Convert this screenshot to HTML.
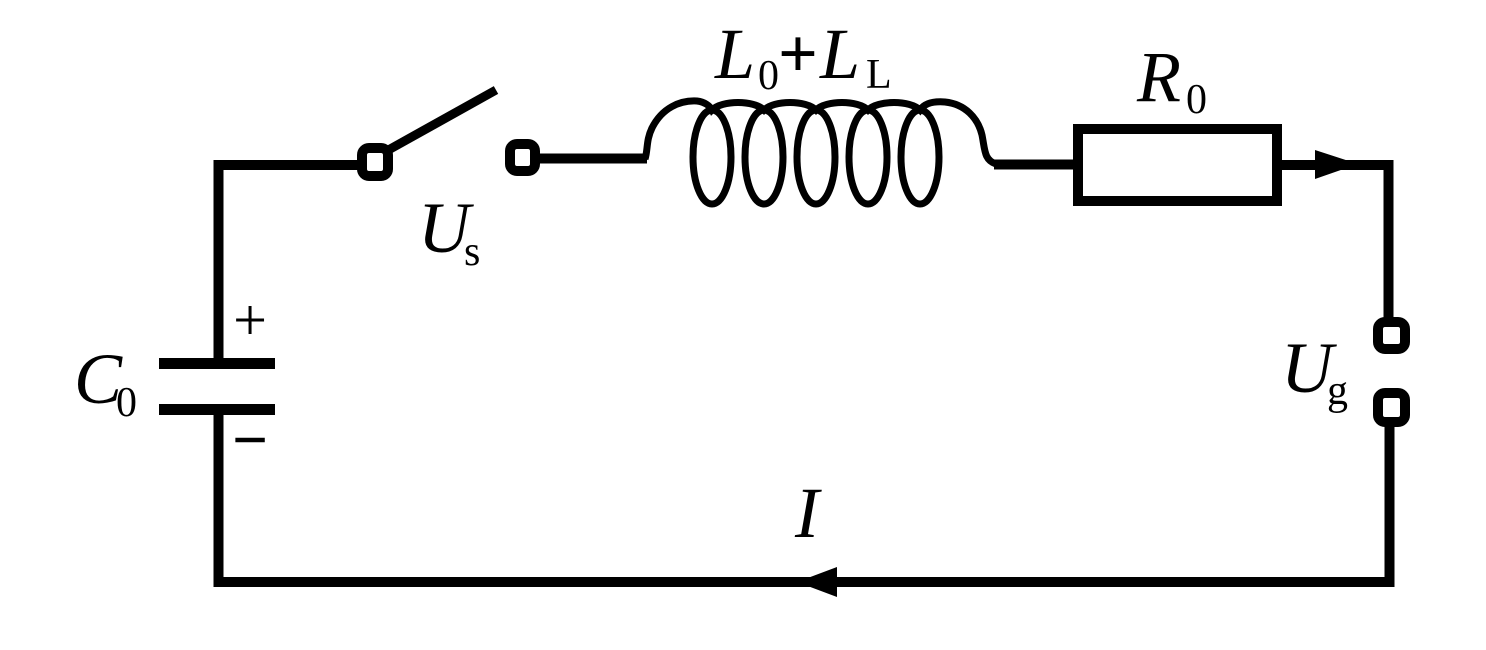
<!DOCTYPE html>
<html>
<head>
<meta charset="utf-8">
<style>
html,body{margin:0;padding:0;background:#fff;}
svg{display:block;}
text{font-family:"Liberation Serif","DejaVu Serif",serif;fill:#000;}
.it{font-style:italic;}
</style>
</head>
<body>
<svg width="1486" height="650" viewBox="0 0 1486 650" xmlns="http://www.w3.org/2000/svg">
<g fill="none" stroke="#000" stroke-width="10" stroke-linejoin="miter" stroke-linecap="butt">
  <path d="M362,165 L218.5,165 L218.5,363"/>
  <path d="M218.5,410 L218.5,582 L1389.5,582 L1389.5,422"/>
  <path d="M535,158.5 L647,158.5"/>
  <path d="M994,164.5 L1078,164.5"/>
  <path d="M1277,165 L1388.5,165 L1388.5,322"/>
  <rect x="1078" y="129" width="199" height="72"/>
  <path d="M383,153 L496,90" stroke-width="9"/>
  <rect x="362" y="148" width="26" height="28" rx="7"/>
  <rect x="510" y="144" width="25" height="27" rx="7"/>
  <rect x="1378" y="322" width="27" height="27" rx="7"/>
  <rect x="1378" y="393" width="27" height="29" rx="7"/>
</g>
<rect x="159" y="358" width="116" height="11" fill="#000"/>
<rect x="159" y="404" width="116" height="11" fill="#000"/>
<g fill="none" stroke="#000" stroke-width="7">
  <path d="M645,159 C648,150 646,140 652,128 C662,108 680,100 697,101 C705,102 710,106 712,110 C722,100 754,100 764,110 C774,100 806,100 816,110 C826,100 858,100 868,110 C878,100 910,100 920,110 C924,104 932,101 945,102 C965,104 978,118 982,135 C985,150 984,160 996,164"/>
  <ellipse cx="712" cy="157" rx="19" ry="47"/>
  <ellipse cx="764" cy="157" rx="19" ry="47"/>
  <ellipse cx="816" cy="157" rx="19" ry="47"/>
  <ellipse cx="868" cy="157" rx="19" ry="47"/>
  <ellipse cx="920" cy="157" rx="19" ry="47"/>
</g>
<polygon points="1315,150 1358,164 1315,179" fill="#000"/>
<polygon points="797,582 837,567 837,597" fill="#000"/>

<text x="715" y="78" font-size="72" class="it">L</text>
<text x="758" y="89" font-size="42">0</text>
<text x="778" y="77" font-size="70" font-weight="bold">+</text>
<text x="820" y="78" font-size="72" class="it">L</text>
<text x="866" y="88" font-size="42">L</text>

<text x="1137" y="101" font-size="72" class="it">R</text>
<text x="1186" y="113" font-size="42">0</text>

<text x="418" y="252" font-size="72" class="it">U</text>
<text x="464" y="265" font-size="42">s</text>

<text x="74" y="403" font-size="72" class="it">C</text>
<text x="116" y="416" font-size="42">0</text>

<text x="1281" y="392" font-size="72" class="it">U</text>
<text x="1327" y="404" font-size="42">g</text>

<text x="795" y="537" font-size="72" class="it">I</text>

<text x="250" y="340" font-size="60" text-anchor="middle">+</text>
<text x="250" y="460" font-size="60" text-anchor="middle" stroke="#000" stroke-width="1.5">−</text>
</svg>
</body>
</html>
